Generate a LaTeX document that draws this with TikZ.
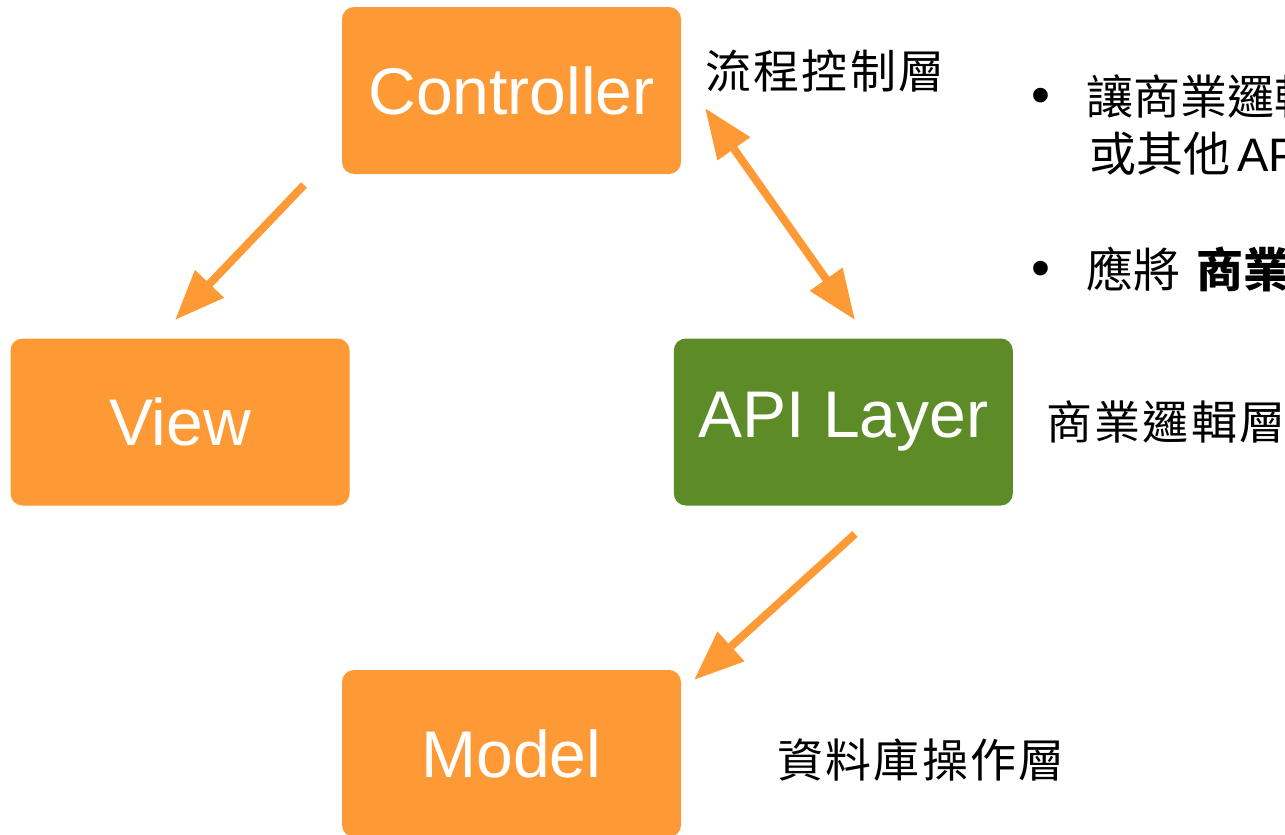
\documentclass[tikz,border=0pt]{standalone}
\usepackage{fontspec}
\setmainfont{Liberation Sans}
\newfontfamily\cjk{Noto Sans CJK TC}
\newfontfamily\cjkwide[LetterSpace=5]{Noto Sans CJK TC}
\usetikzlibrary{arrows.meta}
\definecolor{boxorange}{RGB}{254,154,54}
\definecolor{boxgreen}{RGB}{93,139,40}
\begin{document}
\begin{tikzpicture}[x=1pt,y=-1pt,
  layerbox/.style={rounded corners=12pt, minimum width=339pt, minimum height=167pt,
    inner sep=0pt, text=white, font=\fontsize{66}{72}\selectfont},
  flowtip/.tip={Triangle[length=50pt,width=38pt]},
  flow/.style={draw=boxorange, line width=8pt, -flowtip},
  flowboth/.style={draw=boxorange, line width=8pt, flowtip-flowtip},
  note/.style={font=\cjkwide\fontsize{46}{52}\selectfont, inner sep=0pt, anchor=west},
  bullettext/.style={font=\cjk\fontsize{47}{54}\selectfont, inner sep=0pt, anchor=west},
  bulletdot/.style={font=\fontsize{54}{60}\selectfont, inner sep=0pt},
  ]
\useasboundingbox (0,0) rectangle (1285,835);
\clip (0,0) rectangle (1285,835);

% layer boxes
\node[layerbox, fill=boxorange] (ctrl)  at (511.5,90.5)  {Controller};
\node[layerbox, fill=boxorange] (view)  at (180,422)     {View};
\node[layerbox, fill=boxgreen]  (api)   at (843.3,422)   {API Layer};
\node[layerbox, fill=boxorange] (model) at (511.5,753.5) {Model};

% side labels
\node[note] (lblctrl)  at (705,71)   {流程控制層};
\node[note] (lblapi)   at (1046,422) {商業邏輯層};
\node[note] (lblmodel) at (777,760)  {資料庫操作層};

% bullet notes
\node[bulletdot] (dot1) at (1041,101) {•};
\node[bullettext] (b1a) at (1086,96)  {讓商業邏輯};
\node[bullettext] (b1b) at (1089,154) {或其他\hspace{7pt}{\rmfamily API}};
\node[bulletdot] (dot2) at (1041,274) {•};
\node[bullettext] (b2)  at (1086,269) {應將\hspace{16pt}{\bfseries 商業}};

% arrow end points
\coordinate (cv0) at (304,185);
\coordinate (cv1) at (175,320);
\coordinate (ca0) at (705,108);
\coordinate (ca1) at (855,320);
\coordinate (am0) at (855,534);
\coordinate (am1) at (694,680);

% connectors
\draw[flow] (cv0) -- (cv1);
\draw[flowboth] (ca0) -- (ca1);
\draw[flow] (am0) -- (am1);
\end{tikzpicture}
\end{document}
